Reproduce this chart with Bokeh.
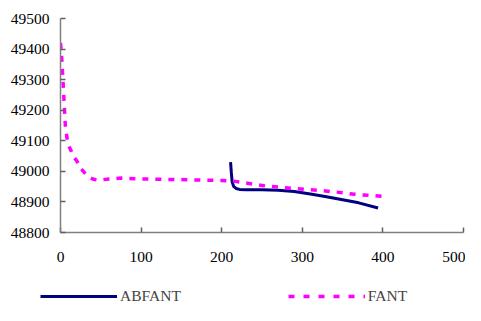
from bokeh.plotting import figure
from bokeh.models import Legend, LegendItem, Range1d, FixedTicker
from bokeh.embed import file_html
from bokeh.resources import INLINE

# FANT series (magenta dashed)
fant_x = [0, 1, 2, 3, 4, 5, 6, 8, 10, 13, 17, 20, 25, 30, 35, 40, 45, 50, 60, 75,
          100, 150, 200, 215, 230, 255, 290, 325, 350, 365, 400]
fant_y = [49420, 49390, 49350, 49300, 49250, 49200, 49150, 49110, 49085, 49068, 49045,
          49035, 49010, 48995, 48982, 48975, 48972, 48972, 48975, 48978,
          48975, 48973, 48970, 48968, 48962, 48952, 48944, 48937, 48930, 48925, 48918]

# ABFANT series (navy solid)
abfant_x = [211, 212, 213, 215, 218, 222, 230, 250, 270, 290, 310, 330, 350, 370, 394]
abfant_y = [49030, 48995, 48965, 48950, 48944, 48941, 48940, 48940, 48938, 48934,
            48926, 48917, 48907, 48897, 48880]

x_ticks = [0, 100, 200, 300, 400, 500]
y_ticks = [48800, 48900, 49000, 49100, 49200, 49300, 49400, 49500]

FONT = "Liberation Serif"
FS = "15.5px"
NAVY = "#000080"
MAGENTA = "#FF00FF"
DASH = "6 7"

p = figure(width=465, height=283, output_backend="svg", toolbar_location=None,
           x_range=Range1d(0, 500), y_range=Range1d(48800, 49500),
           min_border_left=60, min_border_right=2, min_border_top=18, min_border_bottom=51)
p.outline_line_color = None
p.xgrid.visible = False
p.ygrid.visible = False

for ax in (p.xaxis[0], p.yaxis[0]):
    ax.axis_line_color = "#808080"
    ax.axis_line_width = 1.5
    ax.major_tick_line_color = "#606060"
    ax.major_tick_line_width = 1.5
    ax.major_tick_in = 5
    ax.major_tick_out = 0
    ax.minor_tick_line_color = None
    ax.major_label_text_font = FONT
    ax.major_label_text_font_size = FS
    ax.major_label_text_color = "#000000"

p.xaxis[0].ticker = FixedTicker(ticks=x_ticks)
p.yaxis[0].ticker = FixedTicker(ticks=y_ticks)
p.xaxis[0].major_label_standoff = 19
p.yaxis[0].major_label_standoff = 11

p.line(abfant_x, abfant_y, line_color=NAVY, line_width=3)
p.line(fant_x, fant_y, line_color=MAGENTA, line_width=3.5, line_dash=DASH)

# legend strip below the chart (same series, kept out of view; only the legend shows)
lg = figure(width=465, height=22, output_backend="svg", toolbar_location=None,
            x_range=Range1d(-1000, -999), y_range=Range1d(0, 1),
            x_axis_location=None, y_axis_location=None,
            min_border_left=0, min_border_right=0, min_border_top=0, min_border_bottom=0)
lg.outline_line_color = None
lg.xgrid.visible = False
lg.ygrid.visible = False
r_ab = lg.line(abfant_x, abfant_y, line_color=NAVY, line_width=3)
r_f = lg.line(fant_x, fant_y, line_color=MAGENTA, line_width=3.5, line_dash="6 9")

legend = Legend(items=[LegendItem(label="ABFANT", renderers=[r_ab]),
                       LegendItem(label="FANT", renderers=[r_f])],
                orientation="horizontal", location=(40, 0),
                glyph_width=77, glyph_height=16, label_height=16,
                label_standoff=3, spacing=107, padding=0, margin=0,
                border_line_color=None, background_fill_alpha=0,
                label_text_font=FONT, label_text_font_size=FS)
lg.add_layout(legend, "center")

open("out.html", "w").write(file_html([p, lg], INLINE))
